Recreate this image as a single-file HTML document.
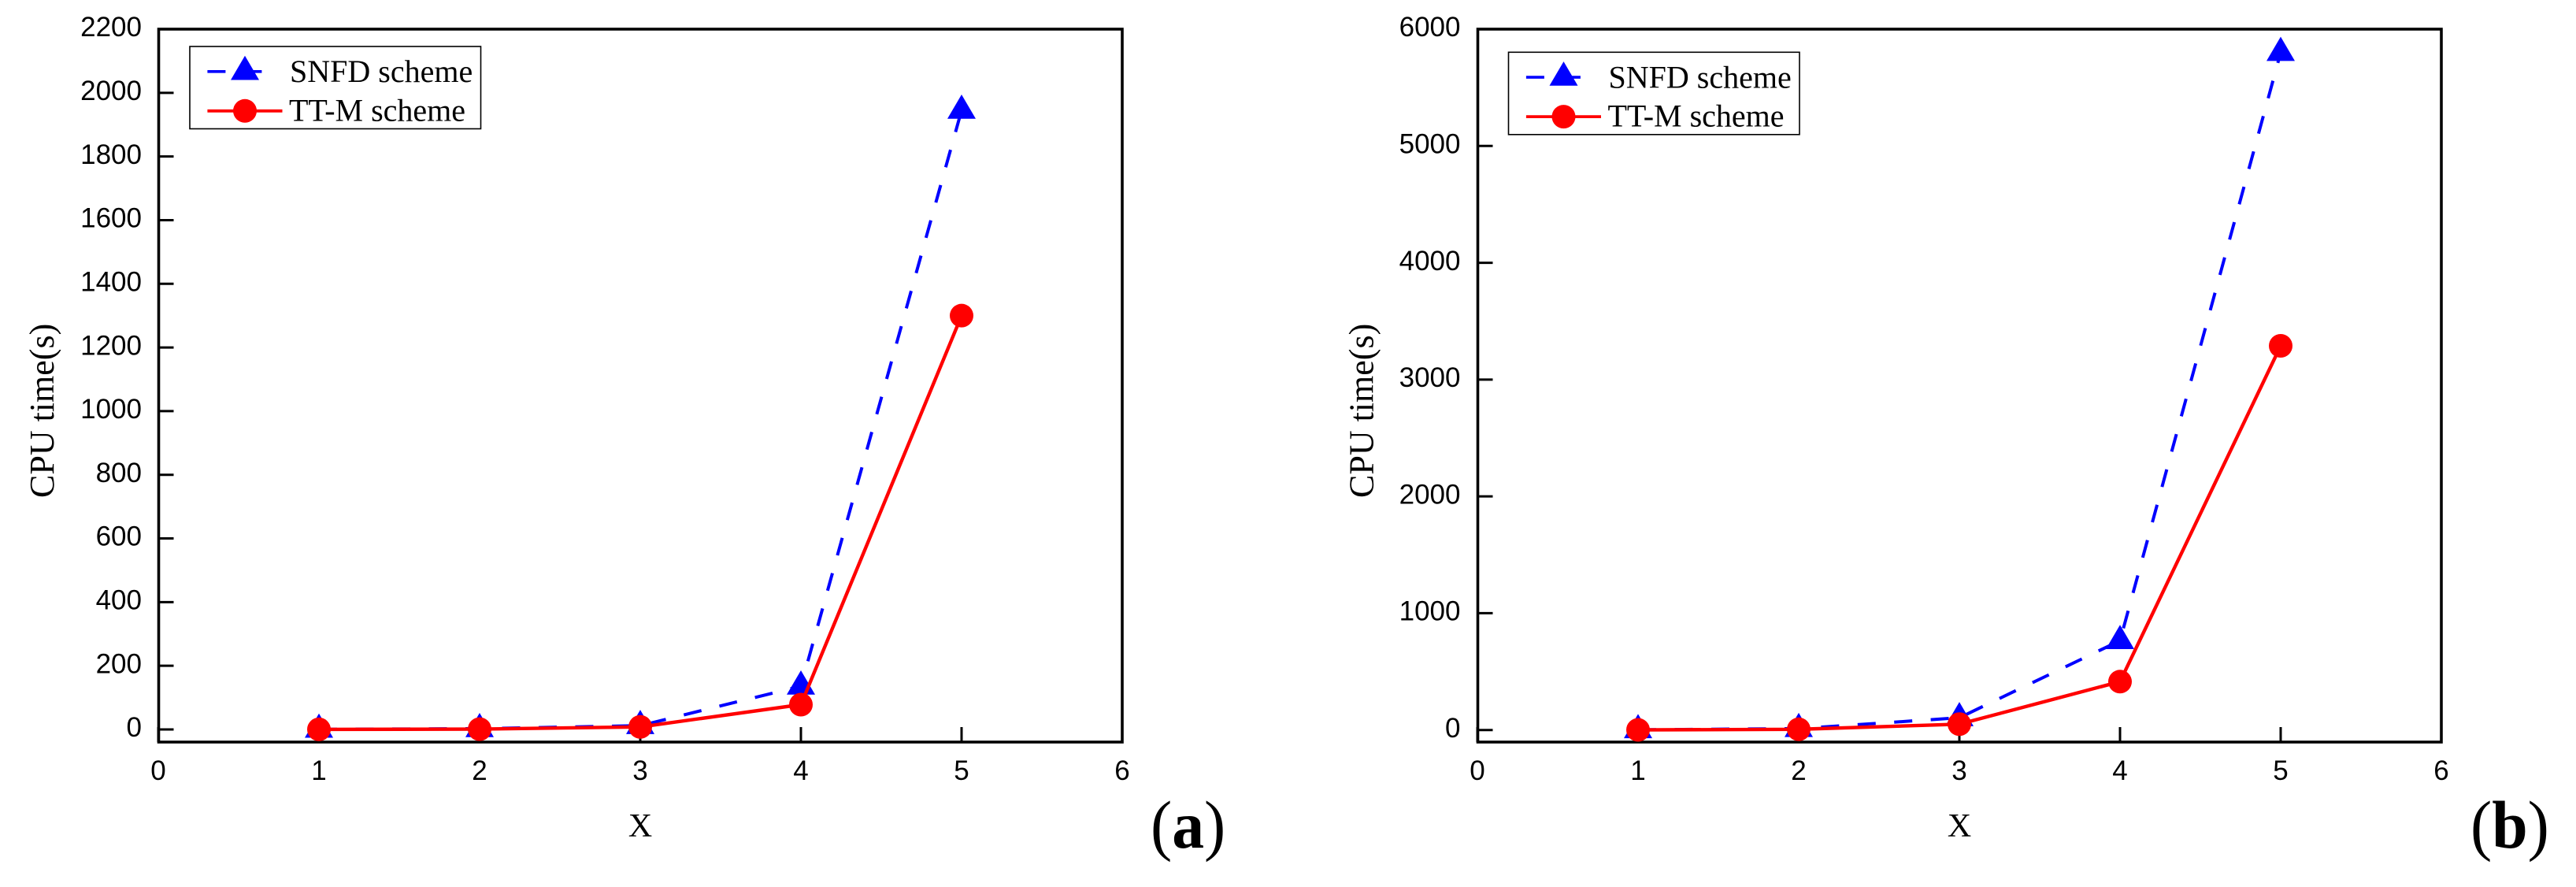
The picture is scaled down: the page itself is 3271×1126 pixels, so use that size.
<!DOCTYPE html>
<html lang="en">
<head>
<meta charset="utf-8">
<title>CPU time comparison</title>
<style>
html,body{margin:0;padding:0;background:#fff;width:3271px;height:1126px;overflow:hidden}
svg{display:block}
</style>
</head>
<body>
<svg id="figure" xmlns="http://www.w3.org/2000/svg" width="3271" height="1126" viewBox="0 0 3271 1126"></svg>
<script>
const categories = [1, 2, 3, 4, 5];
const xTickLabels = [0, 1, 2, 3, 4, 5, 6];
const snfdValuesA = [0.5, 2.5, 12, 136, 1945];
const ttmValuesA = [0.2, 1, 8, 78, 1300];
const yTickLabelsA = [0, 200, 400, 600, 800, 1000, 1200, 1400, 1600, 1800, 2000, 2200];
const snfdValuesB = [2, 12, 105, 765, 5800];
const ttmValuesB = [1, 6, 50, 414, 3289];
const yTickLabelsB = [0, 1000, 2000, 3000, 4000, 5000, 6000];
const seriesNames = ['SNFD scheme', 'TT-M scheme'];

const svg = document.getElementById('figure');
const NS = 'http://www.w3.org/2000/svg';
const SANS = '"Liberation Sans", sans-serif';
const SERIF = '"Liberation Serif", serif';

function make(parent, tag, attrs, text) {
  const el = document.createElementNS(NS, tag);
  for (const k in attrs) el.setAttribute(k, attrs[k]);
  if (text !== undefined) el.textContent = text;
  parent.appendChild(el);
  return el;
}
function triPoints(x, y) {
  return (x - 18) + ',' + (y + 10.7) + ' ' + x + ',' + (y - 20) + ' ' + (x + 18) + ',' + (y + 10.7);
}

function drawPanel(id, p) {
  const g = make(svg, 'g', {});
  
  

  const xScale = v => p.x0 + v * p.xStep;
  const yScale = v => p.y0 - v * p.yPerUnit;
  const bottom = 942, top = 37, right = xScale(6), left = p.x0 + 0.5;

  // tick marks + labels
  p.yTicks.forEach(v => {
    const t = make(g, 'line', {x1: left, x2: left + 19, y1: yScale(v), y2: yScale(v), stroke: '#000', 'stroke-width': 3});
    
    
    const l = make(g, 'text', {x: left + p.yLabelDx, y: yScale(v) + 9.2, 'text-anchor': 'end', 'font-family': SANS, 'font-size': 35, fill: '#000'}, String(v));
    
    
  });
  xTickLabels.forEach(v => {
    const t = make(g, 'line', {x1: xScale(v), x2: xScale(v), y1: bottom, y2: bottom - 19, stroke: '#000', 'stroke-width': 3});
    
    
    const l = make(g, 'text', {x: xScale(v), y: 990, 'text-anchor': 'middle', 'font-family': SANS, 'font-size': 35, fill: '#000'}, String(v));
    
    
  });

  // plot frame
  const frame = make(g, 'rect', {x: left, y: top, width: right - left, height: bottom - top, fill: 'none', stroke: '#000', 'stroke-width': 3.6});
  
  

  // axis titles
  const xt = make(g, 'text', {x: xScale(3), y: 1062, 'text-anchor': 'middle', 'font-family': SERIF, 'font-size': 42, fill: '#000'}, 'X');
  
  
  const yt = make(g, 'text', {transform: 'translate(' + p.yTitleX + ',632) rotate(-90)', x: 0, y: 0, 'font-family': SERIF, 'font-size': 44, fill: '#000'}, 'CPU time(s)');
  
  

  // SNFD series
  const snfdLine = make(g, 'polyline', {points: categories.map((c, i) => xScale(c) + ',' + yScale(p.snfd[i])).join(' '), fill: 'none', stroke: '#0000ff', 'stroke-width': 4, 'stroke-dasharray': '23 23.5', 'stroke-linejoin': 'round'});
  
  
  categories.forEach((c, i) => {
    const m = make(g, 'polygon', {points: triPoints(xScale(c), yScale(p.snfd[i])), fill: '#0000ff'});
    
    
  });

  // TT-M series
  const ttmLine = make(g, 'polyline', {points: categories.map((c, i) => xScale(c) + ',' + yScale(p.ttm[i])).join(' '), fill: 'none', stroke: '#ff0000', 'stroke-width': 4.4, 'stroke-linejoin': 'round'});
  
  
  categories.forEach((c, i) => {
    const m = make(g, 'circle', {cx: xScale(c), cy: yScale(p.ttm[i]), r: 15, fill: '#ff0000'});
    
    
  });

  // legend
  const lx = p.legendX, ly = p.legendY;
  const lg = make(g, 'g', {});
  
  
  make(lg, 'rect', {x: lx, y: ly, width: 369.5, height: 104.5, fill: '#fff', stroke: '#000', 'stroke-width': 1.6});

  const e1 = make(lg, 'g', {});
  
  
  make(e1, 'line', {x1: lx + 22.4, x2: lx + 91.6, y1: ly + 31.8, y2: ly + 31.8, stroke: '#0000ff', 'stroke-width': 3.6, 'stroke-dasharray': '23 23'});
  make(e1, 'polygon', {points: triPoints(lx + 70, ly + 31.8), fill: '#0000ff'});
  make(e1, 'text', {x: lx + 127, y: ly + 45, 'font-family': SERIF, 'font-size': 40, fill: '#000'}, seriesNames[0]);

  const e2 = make(lg, 'g', {});
  
  
  make(e2, 'line', {x1: lx + 22.4, x2: lx + 117.5, y1: ly + 81.8, y2: ly + 81.8, stroke: '#ff0000', 'stroke-width': 3.8});
  make(e2, 'circle', {cx: lx + 70, cy: ly + 81.8, r: 15, fill: '#ff0000'});
  make(e2, 'text', {x: lx + 126, y: ly + 94.3, 'font-family': SERIF, 'font-size': 40, fill: '#000'}, seriesNames[1]);

  // panel label
  const pl = make(g, 'text', {transform: 'translate(' + p.tagX + ',1076) scale(0.95,1)', x: 0, y: 0, 'font-family': SERIF, 'font-size': 86, fill: '#000'});
  
  
  make(pl, 'tspan', {}, '(');
  make(pl, 'tspan', {'font-weight': 'bold'}, p.tag);
  make(pl, 'tspan', {}, ')');
}

drawPanel('panel-a', {
  x0: 201, xStep: 204, y0: 926, yPerUnit: 889 / 2200,
  yTicks: yTickLabelsA, snfd: snfdValuesA, ttm: ttmValuesA,
  yLabelDx: -21.5, yTitleX: 68, legendX: 241, legendY: 59,
  tag: 'a', tagX: 1461
});
drawPanel('panel-b', {
  x0: 1876, xStep: 204, y0: 926.7, yPerUnit: 889.7 / 6000,
  yTicks: yTickLabelsB, snfd: snfdValuesB, ttm: ttmValuesB,
  yLabelDx: -22, yTitleX: 1743.3, legendX: 1915.5, legendY: 66.3,
  tag: 'b', tagX: 3137
});
</script>
</body>
</html>
